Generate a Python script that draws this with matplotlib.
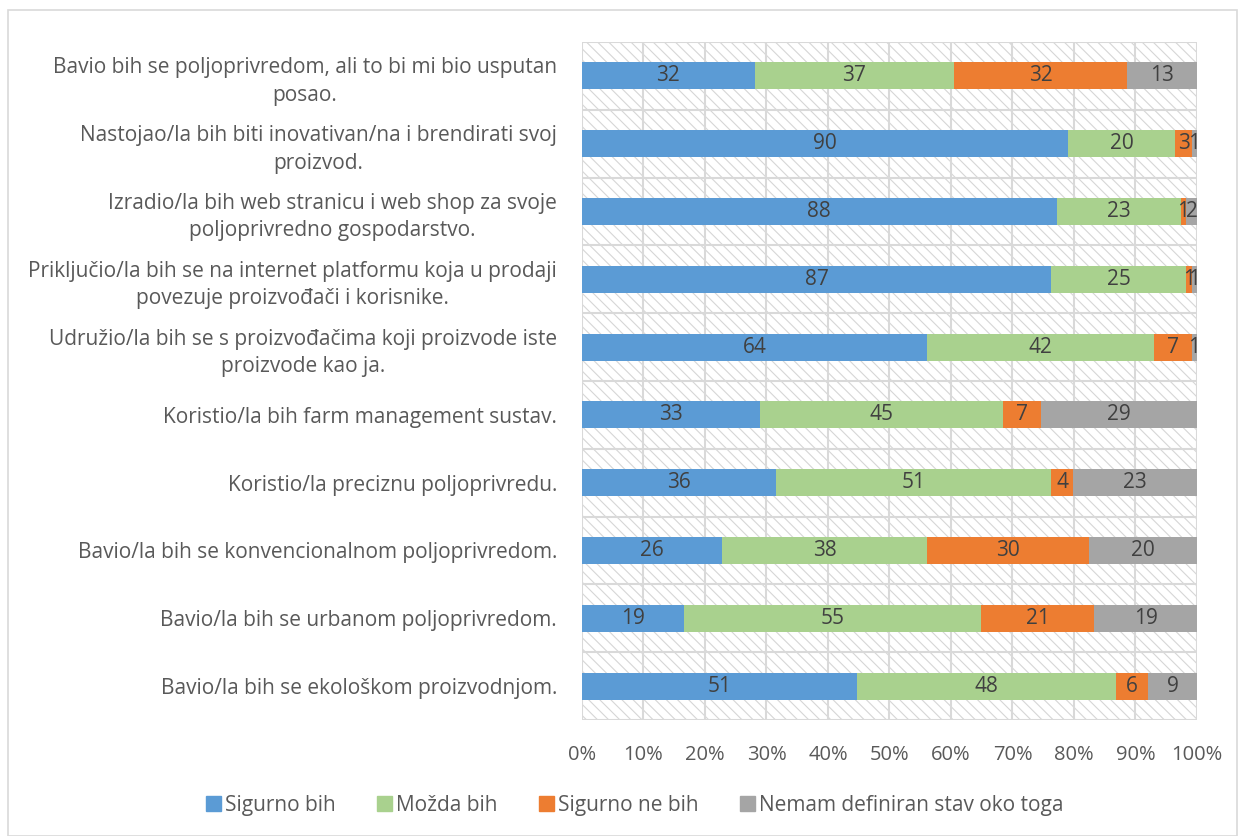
import numpy as np
import matplotlib
matplotlib.use("Agg")
import matplotlib.pyplot as plt
from matplotlib.patches import Rectangle, Patch

# --- data (top to bottom as in the chart) ---
categories = [
    "Bavio bih se poljoprivredom, ali to bi mi bio usputan\nposao.",
    "Nastojao/la bih biti inovativan/na i brendirati svoj\nproizvod.",
    "Izradio/la bih web stranicu i web shop za svoje\npoljoprivredno gospodarstvo.",
    "Priključio/la bih se na internet platformu koja u prodaji\npovezuje proizvođači i korisnike.",
    "Udružio/la bih se s proizvođačima koji proizvode iste\nproizvode kao ja.",
    "Koristio/la bih farm management sustav.",
    "Koristio/la preciznu poljoprivredu.",
    "Bavio/la bih se konvencionalnom poljoprivredom.",
    "Bavio/la bih se urbanom poljoprivredom.",
    "Bavio/la bih se ekološkom proizvodnjom.",
]
series_names = ["Sigurno bih", "Možda bih", "Sigurno ne bih", "Nemam definiran stav oko toga"]
sigurno = [32, 90, 88, 87, 64, 33, 36, 26, 19, 51]
mozda = [37, 20, 23, 25, 42, 45, 51, 38, 55, 48]
sigurno_ne = [32, 3, 1, 1, 7, 7, 4, 30, 21, 6]
nemam = [13, 1, 2, 1, 1, 29, 23, 20, 19, 9]
colors = ["#5B9BD5", "#A9D18E", "#ED7D31", "#A5A5A5"]

plt.rcParams["font.family"] = ["Open Sans", "DejaVu Sans"]
plt.rcParams["hatch.linewidth"] = 0.8
plt.rcParams["hatch.color"] = "#d6d6d6"

values = np.array([sigurno, mozda, sigurno_ne, nemam], dtype=float)
shares = values / values.sum(axis=0)
y = np.arange(len(categories))

fig = plt.figure(figsize=(12.39, 8.36), dpi=100)
fig.patch.set_facecolor("white")
fig.add_artist(Rectangle((8 / 1239, 0.0), 1229 / 1239, 826 / 836, transform=fig.transFigure,
                         fill=False, edgecolor="#d9d9d9", lw=1.2))
ax = fig.add_axes([0.4697, 0.1388, 0.4964, 0.811])

# hatched plot area
ax.add_patch(Rectangle((0, 0), 1, 1, transform=ax.transAxes, facecolor="white",
                       edgecolor="#d6d6d6", hatch="\\\\\\", lw=0, zorder=0))

left = np.zeros(len(categories))
for i in range(4):
    bars = ax.barh(y, shares[i], left=left, height=0.4, color=colors[i], zorder=3)
    ax.bar_label(bars, labels=[f"{int(v)}" for v in values[i]], label_type="center",
                 color="#404040", fontsize=15, zorder=4)
    left += shares[i]

ax.set_xlim(0, 1)
ax.set_ylim(len(categories) - 0.5, -0.5)
ax.set_xticks(np.linspace(0, 1, 11))
ax.set_xticklabels([f"{int(round(t * 100))}%" for t in np.linspace(0, 1, 11)])
ax.set_yticks(y)
ax.set_yticklabels(categories, multialignment="center", fontsize=15)
for lbl in ax.get_yticklabels():
    lbl.set_linespacing(1.4)

# gridlines: verticals every 10 %, horizontals between categories
for t in np.linspace(0, 1, 11):
    ax.axvline(t, color="#d9d9d9", lw=1.5, zorder=1)
for b in np.arange(-0.5, len(categories), 1.0):
    ax.axhline(b, color="#d9d9d9", lw=1.5, zorder=1)

for s in ax.spines.values():
    s.set_visible(False)
ax.tick_params(axis="both", length=0, colors="#595959")
ax.tick_params(axis="x", labelsize=14.5, pad=18)
ax.tick_params(axis="y", pad=18)

handles = [Patch(facecolor=c, edgecolor=c) for c in colors]
fig.legend(handles, series_names, loc="center", bbox_to_anchor=(0.5125, 0.037), ncol=4,
           frameon=False, fontsize=15, handlelength=0.7, handleheight=0.7,
           handletextpad=0.2, columnspacing=2.0, labelcolor="#595959")

fig.savefig("out.png", dpi=100, facecolor="white")
